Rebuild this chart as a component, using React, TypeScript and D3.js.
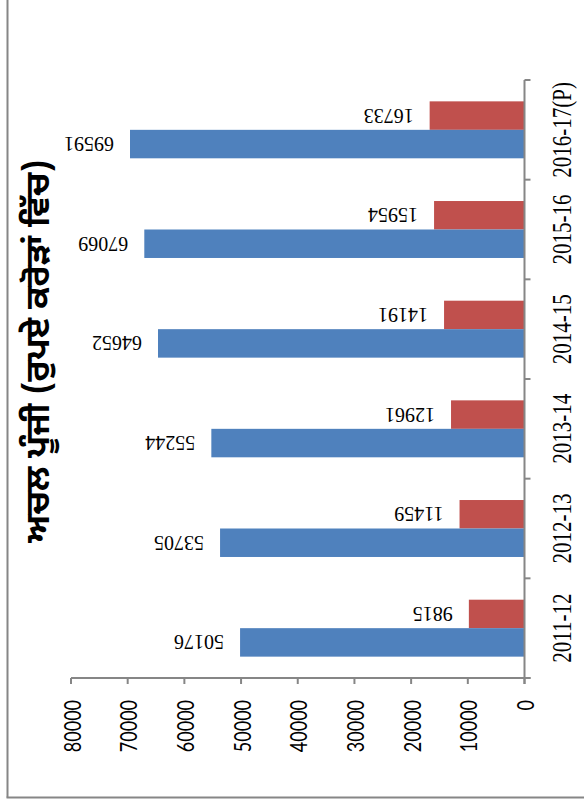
import React from "react";
import * as d3 from "d3";

const categories = ["2011-12", "2012-13", "2013-14", "2014-15", "2015-16", "2016-17(P)"];
const blueValues = [50176, 53705, 55244, 64652, 67069, 69591];
const redValues = [9815, 11459, 12961, 14191, 15954, 16733];
const valueTicks = [0, 10000, 20000, 30000, 40000, 50000, 60000, 70000, 80000];
const title = "ਅਚਲ ਪੂੰਜੀ (ਰੁਪਏ ਕਰੋੜਾਂ ਵਿੱਚ)";

const W = 584;
const H = 804;
const BLUE = "#4F81BD";
const RED = "#C0504D";
const GRAY = "#868686";
const SX = 1.3;

export default function App() {
  const x = d3.scaleLinear().domain([0, 80000]).range([524.5, 71]);
  const y = d3.scaleBand<string>().domain(categories).range([678, 80]).paddingInner(0).paddingOuter(0);
  const step = y.step();
  const sub = d3.scaleBand<string>().domain(["red", "blue"]).range([0, step]).paddingInner(0).paddingOuter(0.75);
  const bw = sub.bandwidth();
  const axisY = 678;
  const axisX = x(0);
  const bandEdges = d3.range(categories.length + 1).map((i) => 80 + i * step);
  const serif = "'Liberation Serif', 'Times New Roman', serif";
  const sans = "Lato, 'Open Sans', sans-serif";

  return (
    <svg width={W} height={H} style={{ position: "absolute", left: 0, top: 0, background: "#fff" }}>
      <rect x={0} y={0} width={W} height={H} fill="#fff" />
      {/* frame */}
      <line x1={7.5} y1={0} x2={7.5} y2={797.5} stroke={GRAY} strokeWidth={2} />
      <line x1={6.5} y1={797.5} x2={W} y2={797.5} stroke={GRAY} strokeWidth={2} />

      {/* bars */}
      {categories.map((c, i) => {
        const y0 = y(c)!;
        const yr = y0 + sub("red")!;
        const yb = y0 + sub("blue")!;
        return (
          <g key={c}>
            <rect x={x(redValues[i])} y={yr} width={axisX - x(redValues[i])} height={bw} fill={RED} />
            <rect x={x(blueValues[i])} y={yb} width={axisX - x(blueValues[i])} height={bw} fill={BLUE} />
            <text
              transform={`translate(${x(redValues[i]) - 16},${yr + bw / 2}) rotate(180)`}
              textAnchor="start"
              dominantBaseline="central"
              fontFamily={serif}
              fontSize={20}
              fill="#000"
            >
              {redValues[i]}
            </text>
            <text
              transform={`translate(${x(blueValues[i]) - 16},${yb + bw / 2}) rotate(180)`}
              textAnchor="start"
              dominantBaseline="central"
              fontFamily={serif}
              fontSize={20}
              fill="#000"
            >
              {blueValues[i]}
            </text>
            <text
              transform={`translate(${561},${y0 + step / 2}) scale(${SX},1) rotate(-90)`}
              textAnchor="middle"
              dominantBaseline="central"
              fontFamily={serif}
              fontSize={21}
              fill="#000"
            >
              {c}
            </text>
          </g>
        );
      })}

      {/* category axis */}
      <line x1={axisX} y1={80} x2={axisX} y2={axisY + 6} stroke={GRAY} strokeWidth={2} />
      {bandEdges.map((e, i) => (
        <line key={i} x1={axisX} y1={e} x2={axisX + 6} y2={e} stroke={GRAY} strokeWidth={2} />
      ))}

      {/* value axis */}
      <line x1={x(80000)} y1={axisY} x2={axisX + 6} y2={axisY} stroke={GRAY} strokeWidth={2} />
      {valueTicks.map((t) => (
        <g key={t}>
          <line x1={x(t)} y1={axisY} x2={x(t)} y2={axisY + 6} stroke={GRAY} strokeWidth={2} />
          <text
            transform={`translate(${x(t)},${700}) scale(${SX},1) rotate(-90)`}
            textAnchor="end"
            dominantBaseline="central"
            fontFamily={sans}
            fontSize={18}
            fill="#000"
          >
            {t}
          </text>
        </g>
      ))}

      {/* title */}
      <text
        transform={`translate(${41},${351}) rotate(-90)`}
        textAnchor="middle"
        dominantBaseline="central"
        fontFamily="'Noto Sans Gurmukhi', 'Raavi', 'Noto Sans', sans-serif"
        fontWeight="bold"
        fontSize={34}
        fill="#000"
      >
        {title}
      </text>
    </svg>
  );
}
